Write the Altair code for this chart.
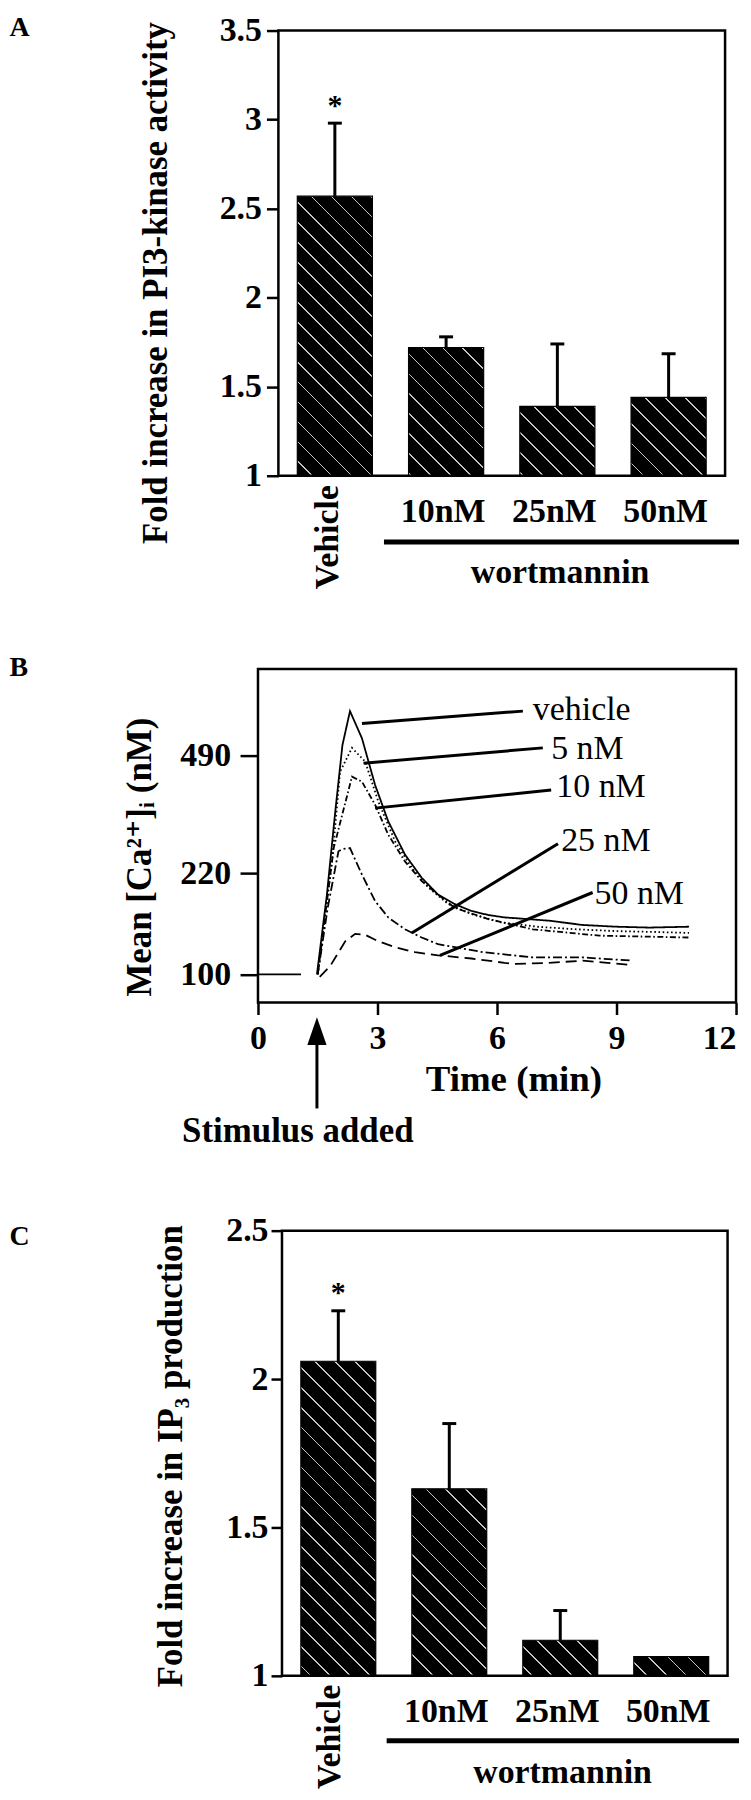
import math
import altair as alt

FONT = "Liberation Serif"

# ---------------- data ----------------
groups = ["Vehicle", "10nM", "25nM", "50nM"]
significant = [True, False, False, False]

# Panel A: PI3-kinase activity (fold increase), mean and upper error
pi3k_mean = [2.57, 1.72, 1.39, 1.44]
pi3k_err = [0.41, 0.06, 0.35, 0.245]

# Panel C: IP3 production (fold increase)
ip3_mean = [2.06, 1.63, 1.12, 1.065]
ip3_err = [0.17, 0.22, 0.10, 0.0]

# Panel B: mean [Ca2+]i traces (time in min, concentration in nM)
baseline_t = [0.0, 1.08]
baseline_v = [100, 100]

vehicle_t = [1.48, 1.73, 1.94, 2.12, 2.31, 2.61, 2.94, 3.27, 3.69, 4.11, 4.52, 4.94,
             5.36, 5.78, 6.19, 6.49, 7.32, 8.15, 8.99, 9.82, 10.82]
vehicle_v = [100, 188, 340, 525, 648, 548, 406, 318, 252, 213, 188, 175,
             166, 161, 158, 157, 154, 149, 147, 146, 147]

nm5_t = [1.50, 1.86, 2.06, 2.36, 2.69, 3.02, 3.44, 3.86, 4.28, 4.78, 5.36, 6.11,
         7.0, 8.0, 9.0, 10.0, 10.82]
nm5_v = [100, 240, 443, 516, 473, 364, 277, 229, 198, 175, 162, 152,
         147, 144, 142, 141, 140]

nm10_t = [1.50, 1.90, 2.36, 2.61, 2.94, 3.27, 3.69, 4.11, 4.52, 4.94, 5.78, 6.90,
          8.57, 10.82]
nm10_v = [100, 264, 429, 415, 356, 290, 240, 208, 188, 170, 156, 144, 137, 135]

nm25_t = [1.50, 1.75, 2.02, 2.12, 2.31, 2.61, 2.94, 3.27, 3.69, 4.11, 4.52, 4.94,
          5.65, 6.90, 8.15, 9.40]
nm25_v = [100, 170, 258, 262, 264, 218, 179, 158, 144, 135, 128, 125,
          120, 115, 115, 112]

nm50_t = [1.55, 1.81, 2.19, 2.44, 2.69, 3.02, 3.44, 3.94, 4.52, 5.36, 6.19, 6.49,
          7.30, 8.15, 9.40]
nm50_v = [98, 107, 131, 139, 138, 131, 125, 120, 117, 114, 110, 109, 110, 112, 108]

trace_names = ["baseline", "vehicle", "5 nM", "10 nM", "25 nM", "50 nM"]
trace_t = [baseline_t, vehicle_t, nm5_t, nm10_t, nm25_t, nm50_t]
trace_v = [baseline_v, vehicle_v, nm5_v, nm10_v, nm25_v, nm50_v]

# leader lines and labels for the traces (data coordinates)
label_names = ["vehicle", "5 nM", "10 nM", "25 nM", "50 nM"]
leader_t0 = [2.61, 2.65, 2.94, 3.86, 4.57]
leader_v0 = [601, 468, 348, 140, 117]
leader_t1 = [6.65, 7.15, 7.36, 7.53, 8.40]
leader_v1 = [648, 516, 393, 272, 191]
label_t = [6.90, 7.36, 7.49, 7.61, 8.45]
label_v = [613, 481, 374, 258, 175]

stimulus_time = [1.48]

ca_ticks = [100, 220, 490]
time_ticks = [0, 3, 6, 9, 12]

# common left origin of all three panels; panel letters sit at the page edge
LETTER_X = -249.5


# ---------------- helpers ----------------
def hatch(bw, bh, period=20.0, stripe=1.7, phase=6.0, light="#c4c4c4"):
    """Linear gradient that draws '\\' diagonal stripes on a w x h bar."""
    w, h = float(bw), max(float(bh), 1.0)
    r = h / w
    s = (1 + r) / (1 + r * r)
    tot = w + h
    centers = []
    k = math.floor((-w - phase) / period)
    u = phase + k * period
    while u < h + period:
        if -w < u < h:
            centers.append(u)
        u += period
    stops = [{"offset": 0, "color": "black"}]
    hw = stripe / 2.0 / tot
    for u in sorted(centers, reverse=True):
        tc = (h - u) / tot
        a, b = max(0.0, tc - hw), min(1.0, tc + hw)
        stops += [{"offset": a, "color": "black"}, {"offset": a, "color": light},
                  {"offset": b, "color": light}, {"offset": b, "color": "black"}]
    stops.append({"offset": 1, "color": "black"})
    return {"gradient": "linear", "x1": 0, "y1": 1, "x2": s, "y2": 1 - s * r,
            "stops": stops}


def bar_panel(letter, means, errs, ymin, ymax, yticks, ytitle, d, Wp, H,
              tick_size, label_pad, title_x, title_y, letter_y,
              veh_y, veh_dy, wort_y, wort_x0, wort_x1, wort_ty, wort_tx):
    p_in, p_out = 0.325, 0.17
    step = (Wp - d) / (len(groups) - p_in + 2 * p_out)
    bw = step * (1 - p_in)
    rows = []
    for g, m, e, s in zip(groups, means, errs, significant):
        bh = (m - ymin) / (ymax - ymin) * H
        rows.append({"group": g, "mean": m, "top": m + e, "err": e,
                     "star": "*" if s else "", "hatch": hatch(bw, bh)})
    base = alt.Chart(alt.Data(values=rows))
    x = alt.X("group:N", sort=groups,
              scale=alt.Scale(domain=groups, range=[d, Wp],
                              paddingInner=p_in, paddingOuter=p_out),
              axis=None)
    yscale = alt.Scale(domain=[ymin, ymax], nice=False, zero=False)
    yaxis = alt.Axis(values=yticks, format="~g", title=ytitle, grid=False, domain=False,
                     offset=-d,
                     tickSize=tick_size, tickWidth=2.5, tickColor="black",
                     labelPadding=label_pad, labelFont=FONT, labelFontSize=34,
                     labelFontWeight="bold", labelColor="black", labelOverlap=False,
                     titleFont=FONT, titleFontSize=35, titleFontWeight="bold",
                     titleColor="black", titleAngle=270, titleAlign="center",
                     titleBaseline="alphabetic", titleX=title_x, titleY=title_y)

    bars = base.mark_bar(stroke="black", strokeWidth=1.2).encode(
        x=x,
        y=alt.Y("mean:Q", scale=yscale, axis=yaxis),
        y2=alt.datum(ymin),
        fill=alt.Fill("hatch:N", scale=None),
    )
    witherr = base.transform_filter("datum.err > 0")
    err_line = witherr.mark_rule(color="black", strokeWidth=3).encode(
        x=x, y="mean:Q", y2="top:Q")
    err_cap = witherr.mark_tick(color="black", orient="horizontal", size=14,
                                thickness=3, opacity=1).encode(x=x, y="top:Q")
    star = base.transform_filter("datum.star != ''").mark_text(
        font=FONT, fontSize=30, fontWeight="bold", color="black",
        baseline="alphabetic", dy=-8.5).encode(x=x, y="top:Q", text="star:N")
    cat_labels = base.transform_filter("datum.group != 'Vehicle'").mark_text(
        font=FONT, fontSize=34, fontWeight="bold", color="black",
        baseline="alphabetic", dx=-3).encode(x=x, y=alt.value(H + 46), text="group:N")
    veh_label = base.transform_filter("datum.group == 'Vehicle'").mark_text(
        font=FONT, fontSize=34, fontWeight="bold", color="black", angle=270,
        align="right", baseline="alphabetic", dy=veh_dy).encode(
        x=x, y=alt.value(veh_y), text="group:N")
    note = alt.Chart(alt.Data(values=[{"t": "wortmannin", "l": letter}]))
    frame = note.mark_rect(filled=False, stroke="black", strokeWidth=2.5).encode(
        x=alt.value(d), x2=alt.value(Wp), y=alt.value(0), y2=alt.value(H))
    wort_rule = note.mark_rule(color="black", strokeWidth=5).encode(
        x=alt.value(wort_x0), x2=alt.value(wort_x1), y=alt.value(wort_y))
    wort_text = note.mark_text(font=FONT, fontSize=34, fontWeight="bold",
                               color="black", baseline="alphabetic").encode(
        x=alt.value(wort_tx), y=alt.value(wort_ty), text="t:N")
    letter_mark = note.mark_text(font=FONT, fontSize=28, fontWeight="bold",
                                 color="black", align="left",
                                 baseline="alphabetic").encode(
        x=alt.value(LETTER_X), y=alt.value(letter_y), text="l:N")
    return alt.layer(bars, err_line, err_cap, star, cat_labels, veh_label,
                     wort_rule, wort_text, letter_mark, frame).properties(
        width=Wp, height=H, view=alt.ViewBackground(stroke="transparent"))


# ---------------- panel A ----------------
HA = 447
panel_a = bar_panel("A", pi3k_mean, pi3k_err, 1.0, 3.5, [1, 1.5, 2, 2.5, 3, 3.5],
                    "Fold increase in PI3-kinase activity", d=20.5, Wp=469, H=HA,
                    tick_size=12, label_pad=5, title_x=-112, title_y=253,
                    letter_y=5,
                    veh_y=HA + 9.4, veh_dy=3, wort_y=HA + 66.5, wort_x0=126.5,
                    wort_x1=483, wort_ty=HA + 107.7, wort_tx=303.3)

# ---------------- panel B ----------------
WB, HB = 480, 335
trace_rows = []
for name, ts, vs in zip(trace_names, trace_t, trace_v):
    for t, v in zip(ts, vs):
        trace_rows.append({"series": name, "t": t, "v": v})

xscale_b = alt.Scale(domain=[0, 12], nice=False, zero=False)
yscale_b = alt.Scale(type="pow", exponent=0.17, domain=[78.6, 833], nice=False, zero=False)

lines = alt.Chart(alt.Data(values=trace_rows)).mark_line(
    color="black", strokeWidth=1.8).encode(
    x=alt.X("t:Q", scale=xscale_b,
            axis=alt.Axis(values=time_ticks, grid=False, domain=False, tickSize=12,
                          tickWidth=2.5, tickColor="black", labelPadding=34.3,
                          labelBaseline="alphabetic", labelFlush=False,
                          labelAlign={"condition": {"test": "datum.value == 12",
                                                    "value": "right"},
                                      "value": "center"},
                          labelOverlap=False, labelFont=FONT, labelFontSize=34,
                          labelFontWeight="bold", labelColor="black",
                          title="Time (min)", titleFont=FONT, titleFontSize=37,
                          titleFontWeight="bold", titleColor="black",
                          titleAlign="center", titleBaseline="alphabetic",
                          titleX=256.5, titleY=88)),
    y=alt.Y("v:Q", scale=yscale_b,
            axis=alt.Axis(values=ca_ticks, grid=False, domain=False, tickSize=18,
                          tickWidth=2.5, tickColor="black", labelPadding=9.5,
                          labelOverlap=False, labelFont=FONT, labelFontSize=34,
                          labelFontWeight="bold", labelColor="black",
                          title="Mean [Ca²⁺]ᵢ (nM)",
                          titleFont=FONT + ", DejaVu Serif", titleFontSize=35,
                          titleFontWeight="bold", titleColor="black",
                          titleAngle=270, titleAlign="center",
                          titleBaseline="alphabetic", titleX=-108, titleY=188.5)),
    strokeDash=alt.StrokeDash(
        "series:N",
        scale=alt.Scale(domain=trace_names,
                        range=[[1, 0], [1, 0], [1.6, 2.6], [6, 2.5, 1.6, 2.5],
                               [9, 3, 2, 3], [11, 6]]),
        legend=None),
    detail="series:N",
)

leader_rows = [{"label": n, "t0": a, "v0": b, "t1": c, "v1": dd, "lt": e, "lv": f}
               for n, a, b, c, dd, e, f in zip(label_names, leader_t0, leader_v0,
                                               leader_t1, leader_v1, label_t, label_v)]
leaders_base = alt.Chart(alt.Data(values=leader_rows))
leaders = leaders_base.mark_rule(color="black", strokeWidth=3).encode(
    x="t0:Q", y="v0:Q", x2="t1:Q", y2="v1:Q")
leader_text = leaders_base.mark_text(font=FONT, fontSize=34, color="black",
                                     align="left", baseline="alphabetic").encode(
    x="lt:Q", y="lv:Q", text="label:N")

stim = alt.Chart(alt.Data(values=[{"t": stimulus_time[0], "s": "Stimulus added", "l": "B"}]))
arrow_shaft = stim.mark_rule(color="black", strokeWidth=3).encode(
    x="t:Q", y=alt.value(HB + 25), y2=alt.value(HB + 106.3))
arrow_head = stim.mark_point(shape="M0,-1L0.69,1L-0.69,1Z", size=784, filled=True,
                             fill="black", strokeWidth=0, opacity=1).encode(
    x="t:Q", y=alt.value(HB + 28.7))
stim_text = stim.mark_text(font=FONT, fontSize=35, fontWeight="bold", color="black",
                           baseline="alphabetic").encode(
    x=alt.value(40), y=alt.value(474.7), text="s:N")
letter_b = stim.mark_text(font=FONT, fontSize=28, fontWeight="bold", color="black",
                          align="left", baseline="alphabetic").encode(
    x=alt.value(LETTER_X), y=alt.value(7.3), text="l:N")

panel_b = alt.layer(lines, leaders, leader_text, arrow_shaft, arrow_head, stim_text,
                    letter_b).properties(width=WB, height=HB)

# ---------------- panel C ----------------
HC = 447
panel_c = bar_panel("C", ip3_mean, ip3_err, 1.0, 2.5, [1, 1.5, 2, 2.5],
                    "Fold increase in IP₃ production", d=24.1, Wp=471.5, H=HC,
                    tick_size=11, label_pad=3, title_x=-101, title_y=226,
                    letter_y=14,
                    veh_y=HC + 9, veh_dy=2, wort_y=HC + 65.2, wort_x0=129.2,
                    wort_x1=483, wort_ty=HC + 107.4, wort_tx=305.8)

chart = alt.concat(panel_a, panel_b, panel_c, columns=1, spacing=62, align="none",
                   padding=0, background="white").configure_view(
    stroke="black", strokeWidth=2.5)

chart.save("out.html", embed_options={"renderer": "svg", "actions": False})
